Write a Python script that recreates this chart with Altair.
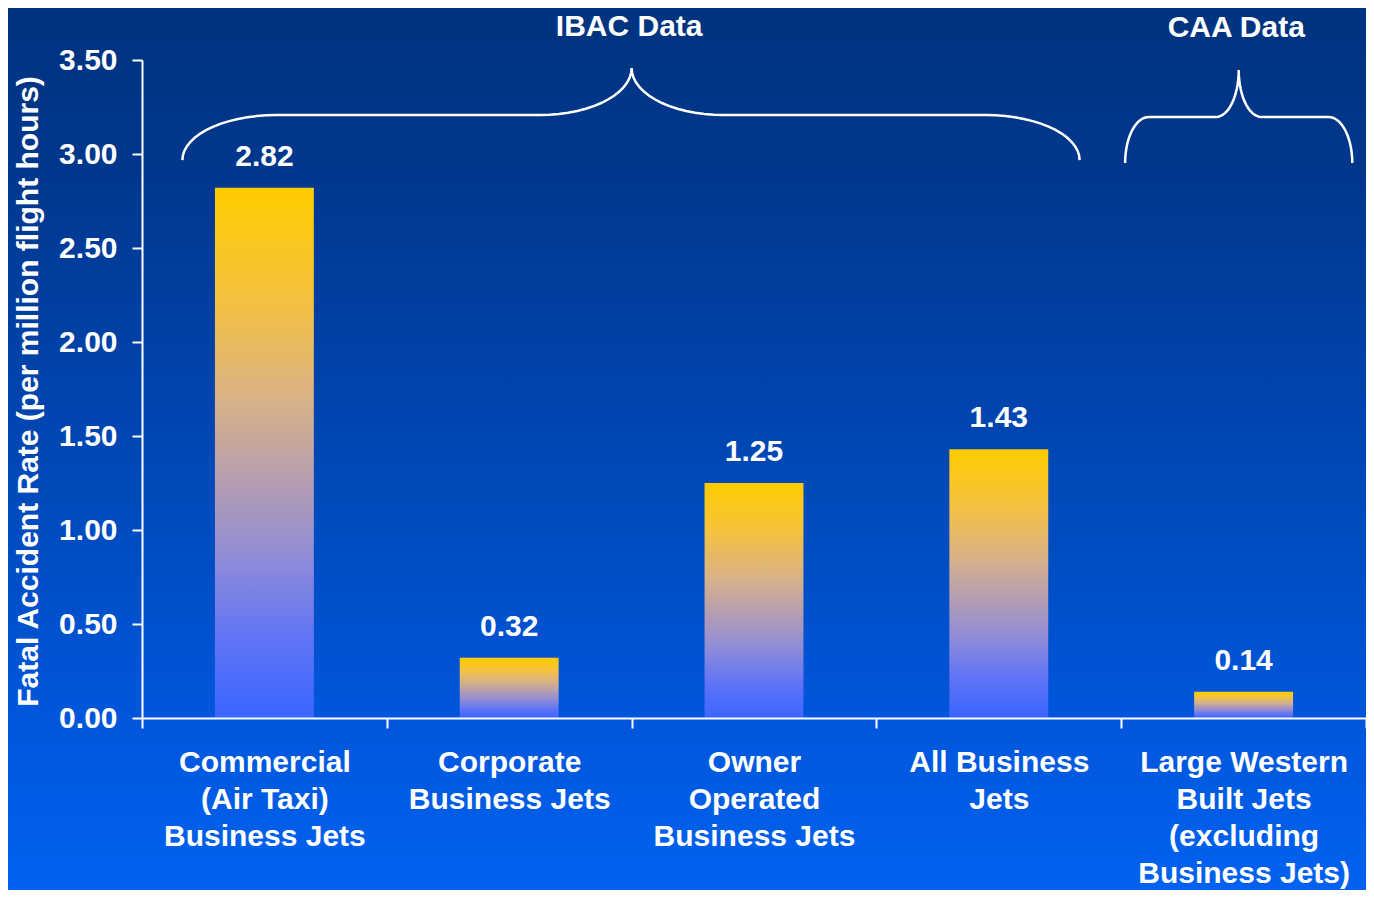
import altair as alt
import pandas as pd
import numpy as np

# ---- data ----
categories = [
    "Commercial|(Air Taxi)|Business Jets",
    "Corporate|Business Jets",
    "Owner|Operated|Business Jets",
    "All Business|Jets",
    "Large Western|Built Jets|(excluding|Business Jets)",
]
rates = [2.82, 0.32, 1.25, 1.43, 0.14]
y_ticks = [0.0, 0.5, 1.0, 1.5, 2.0, 2.5, 3.0, 3.5]

# brace annotations (x in category-band units, y in axis units)
group_names = ["IBAC Data", "CAA Data"]
brace_x0 = [0.165, 4.016]
brace_xp = [2.0, 4.48]
brace_x1 = [3.83, 4.944]
brace_yend = [2.968, 2.952]
brace_ybar = [3.207, 3.197]
brace_ypeak = [3.457, 3.447]
brace_wend = [0.383, 0.097]
brace_wpeak = [0.375, 0.093]
label_x = [1.99, 4.47]
label_y = [3.675, 3.67]

W, H = 1224, 658
PAD_L, PAD_T = 134, 52
TOTAL_W, TOTAL_H = 1358, 882
FONT = "Liberation Sans"
FS = 30

df = pd.DataFrame({"cat": categories, "rate": rates})
df["txt"] = [f"{v:.2f}" for v in rates]


def brace_points(g):
    x0, xp, x1 = brace_x0[g], brace_xp[g], brace_x1[g]
    ye, yb, yp = brace_yend[g], brace_ybar[g], brace_ypeak[g]
    we, wp = brace_wend[g], brace_wpeak[g]
    pts = []
    n = 16
    for t in np.linspace(np.pi, np.pi / 2, n):
        pts.append((x0 + we + we * np.cos(t), ye + (yb - ye) * np.sin(t)))
    for t in np.linspace(-np.pi / 2, 0, n):
        pts.append((xp - wp + wp * np.cos(t), yp + (yp - yb) * np.sin(t)))
    for t in np.linspace(np.pi, 1.5 * np.pi, n):
        pts.append((xp + wp + wp * np.cos(t), yp + (yp - yb) * np.sin(t)))
    for t in np.linspace(np.pi / 2, 0, n):
        pts.append((x1 - we + we * np.cos(t), ye + (yb - ye) * np.sin(t)))
    return pts


rows = []
for g in range(len(group_names)):
    for i, (bx, by) in enumerate(brace_points(g)):
        rows.append({"group": group_names[g], "i": i, "bx": bx, "by": by})
brace_df = pd.DataFrame(rows)
glabel_df = pd.DataFrame({"name": group_names, "lx": label_x, "ly": label_y})

yscale = alt.Scale(domain=[0, 3.5], nice=False, zero=True)
band = alt.Scale(paddingInner=0, paddingOuter=0)
qx = alt.Scale(domain=[0, 5], nice=False, zero=False)

Y_TITLE = "Fatal Accident Rate (per million flight hours)"
y_axis = alt.Axis(values=y_ticks, format=".2f", zindex=1, labelPadding=15,
                  title=Y_TITLE, titleX=-114, titleY=H / 2 + 2, titleAngle=-90,
                  titleAlign="center", titleBaseline="middle", titleFontSize=FS)

bg_grad = alt.Gradient(
    gradient="linear",
    stops=[
        alt.GradientStop(color="#00337F", offset=0),
        alt.GradientStop(color="#00388F", offset=0.2),
        alt.GradientStop(color="#0056DA", offset=0.8),
        alt.GradientStop(color="#0062F0", offset=1),
    ],
    x1=0, x2=0, y1=0, y2=1,
)
bar_grad = alt.Gradient(
    gradient="linear",
    stops=[
        alt.GradientStop(color="#FFCC00", offset=0),
        alt.GradientStop(color="#F6C23C", offset=0.2),
        alt.GradientStop(color="#D9B287", offset=0.4),
        alt.GradientStop(color="#B69EB0", offset=0.55),
        alt.GradientStop(color="#8F8CD8", offset=0.7),
        alt.GradientStop(color="#6074F6", offset=0.85),
        alt.GradientStop(color="#3A66FF", offset=1),
    ],
    x1=0, x2=0, y1=0, y2=1,
)

bg = alt.Chart(pd.DataFrame({"a": [0]})).mark_rect(color=bg_grad).encode(
    x=alt.value(-PAD_L), x2=alt.value(TOTAL_W - PAD_L),
    y=alt.value(-PAD_T), y2=alt.value(TOTAL_H - PAD_T),
)

bars = alt.Chart(df).mark_bar(color=bar_grad, width=alt.RelativeBandSize(0.404)).encode(
    x=alt.X("cat:N", sort=None, scale=band, title=None,
            axis=alt.Axis(labelExpr="split(datum.label, '|')", labelAngle=0,
                          tickBand="extent", labelPadding=19, labelLineHeight=37,
                          labelBaseline="top", labelLimit=400, zindex=1,
                          labelFontSize=FS)),
    y=alt.Y("rate:Q", scale=yscale, axis=y_axis, title=Y_TITLE),
)

values = alt.Chart(df).mark_text(
    font=FONT, fontSize=FS, fontWeight="bold", color="white", baseline="middle", dy=-31
).encode(
    x=alt.X("cat:N", sort=None, scale=band, axis=None),
    y=alt.Y("rate:Q", scale=yscale, axis=y_axis, title=Y_TITLE),
    text="txt:N",
)

braces = alt.Chart(brace_df).mark_line(color="white", strokeWidth=2.5).encode(
    x=alt.X("bx:Q", scale=qx, axis=None),
    y=alt.Y("by:Q", scale=yscale, axis=y_axis, title=Y_TITLE),
    detail="group:N",
    order="i:Q",
)

glabels = alt.Chart(glabel_df).mark_text(
    font=FONT, fontSize=FS, fontWeight="bold", color="white", baseline="middle"
).encode(
    x=alt.X("lx:Q", scale=qx, axis=None),
    y=alt.Y("ly:Q", scale=yscale, axis=y_axis, title=Y_TITLE),
    text="name:N",
)

chart = alt.layer(bg, bars, values, braces, glabels).resolve_scale(
    x="independent"
).properties(
    width=W, height=H,
    autosize=alt.AutoSizeParams(type="none"),
    padding={"left": PAD_L, "top": PAD_T, "right": TOTAL_W - PAD_L - W,
             "bottom": TOTAL_H - PAD_T - H},
    background="#0060EC",
).configure_view(stroke=None).configure_axis(
    domainColor="white", domainWidth=2, tickColor="white", tickWidth=2, tickSize=10,
    labelColor="white", labelFont=FONT, labelFontWeight="bold", labelFontSize=FS,
    titleColor="white", titleFont=FONT, titleFontWeight="bold", grid=False,
).configure_text(font=FONT)

chart.save("out.html", embed_options={"renderer": "svg", "actions": False})
